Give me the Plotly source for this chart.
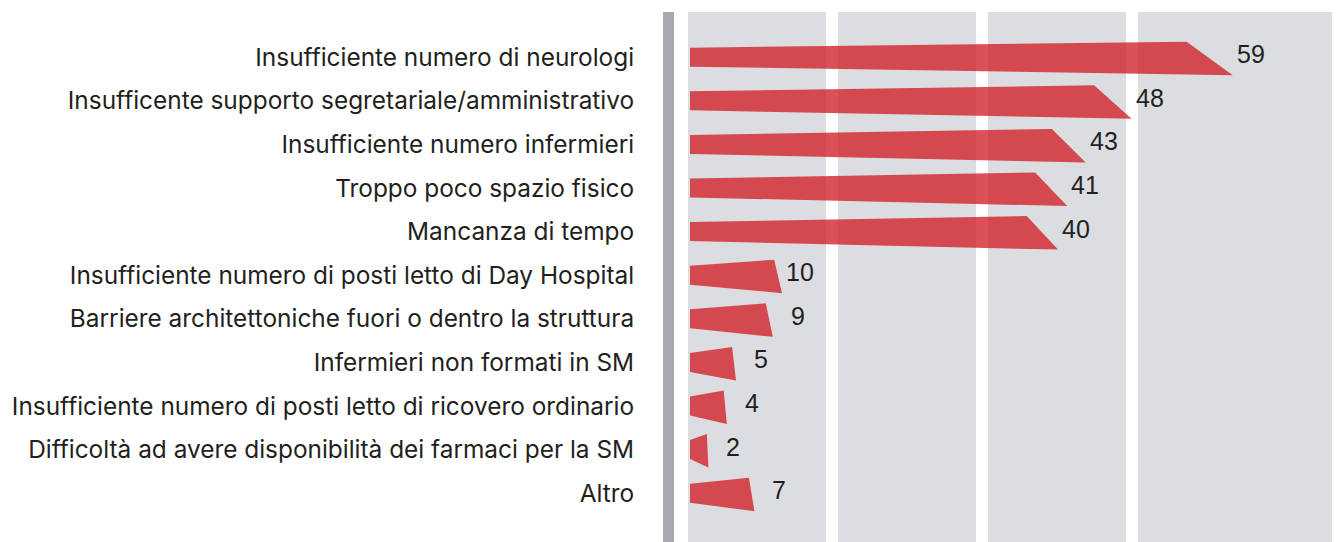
import plotly.graph_objects as go

# ---- data -------------------------------------------------------------
categories = [
    "Insufficiente numero di neurologi",
    "Insufficente supporto segretariale/amministrativo",
    "Insufficiente numero infermieri",
    "Troppo poco spazio fisico",
    "Mancanza di tempo",
    "Insufficiente numero di posti letto di Day Hospital",
    "Barriere architettoniche fuori o dentro la struttura",
    "Infermieri non formati in SM",
    "Insufficiente numero di posti letto di ricovero ordinario",
    "Difficoltà ad avere disponibilità dei farmaci per la SM",
    "Altro",
]
values = [59, 48, 43, 41, 40, 10, 9, 5, 4, 2, 7]

# ---- style ------------------------------------------------------------
OFF = 8                      # page body margin added by the browser
W, H = 1340, 542
ML, MR, MT, MB = 660 - OFF, 0, 12 - OFF, 0
PX_PER_UNIT = 9.2
ZERO_PX = 690 - OFF
BAR_COLOR = "rgba(210, 28, 37, 0.77)"
BAND_COLOR = "#dcdde0"
LINE_COLOR = "#a8a9ad"
TEXT_COLOR = "#231f20"
LABEL_FONT = "Inter"
VALUE_FONT = "Liberation Sans, Arial, sans-serif"

plot_w = W - ML - MR
x_lo = -(ZERO_PX - ML) / PX_PER_UNIT
x_hi = (W - MR - ZERO_PX) / PX_PER_UNIT

row_px = 43.6
first_row_px = 57.2 - OFF - MT
plot_h = H - MT - MB
y_top = -first_row_px / row_px
y_bot = (plot_h - first_row_px) / row_px

def paper_x(px):
    return (px - OFF - ML) / plot_w

fig = go.Figure()

# arrow-like tapered bars
xs, ys = [], []
for i, v in enumerate(values):
    xs += [0, v * 0.915, v, 0, None]
    ys += [i - 0.218, i - 0.355, i + 0.413, i + 0.218, None]
fig.add_trace(go.Scatter(
    x=xs, y=ys, mode="lines", fill="toself",
    fillcolor=BAR_COLOR, line=dict(width=0, color=BAR_COLOR),
    hoverinfo="skip", showlegend=False,
))

# value labels
for i, v in enumerate(values):
    fig.add_annotation(
        x=v, y=i, text=str(v), showarrow=False,
        xanchor="right", yanchor="middle", xshift=34, yshift=3,
        font=dict(family=VALUE_FONT, size=25, color=TEXT_COLOR),
    )

# background bands and left rule
shapes = []
for x0, x1 in [(688, 826), (838, 976), (988, 1126), (1138, 1360)]:
    shapes.append(dict(type="rect", xref="paper", yref="paper",
                       x0=paper_x(x0), x1=paper_x(x1), y0=0, y1=1,
                       fillcolor=BAND_COLOR, line=dict(width=0), layer="below"))
shapes.append(dict(type="rect", xref="paper", yref="paper",
                   x0=paper_x(663), x1=paper_x(674), y0=0, y1=1,
                   fillcolor=LINE_COLOR, line=dict(width=0), layer="below"))

fig.update_layout(
    width=W, height=H,
    margin=dict(l=ML, r=MR, t=MT, b=MB, pad=0),
    paper_bgcolor="white", plot_bgcolor="white",
    shapes=shapes, showlegend=False,
    xaxis=dict(range=[x_lo, x_hi], visible=False, fixedrange=True),
    yaxis=dict(
        range=[y_bot, y_top],
        tickmode="array", tickvals=list(range(len(categories))),
        ticktext=categories,
        ticks="outside", ticklen=20, tickcolor="rgba(0,0,0,0)",
        showgrid=False, zeroline=False, showline=False,
        tickfont=dict(family=LABEL_FONT, size=24.4, color=TEXT_COLOR),
        fixedrange=True,
    ),
    hovermode=False,
)

fig.write_html("out.html", config={"displayModeBar": False})
